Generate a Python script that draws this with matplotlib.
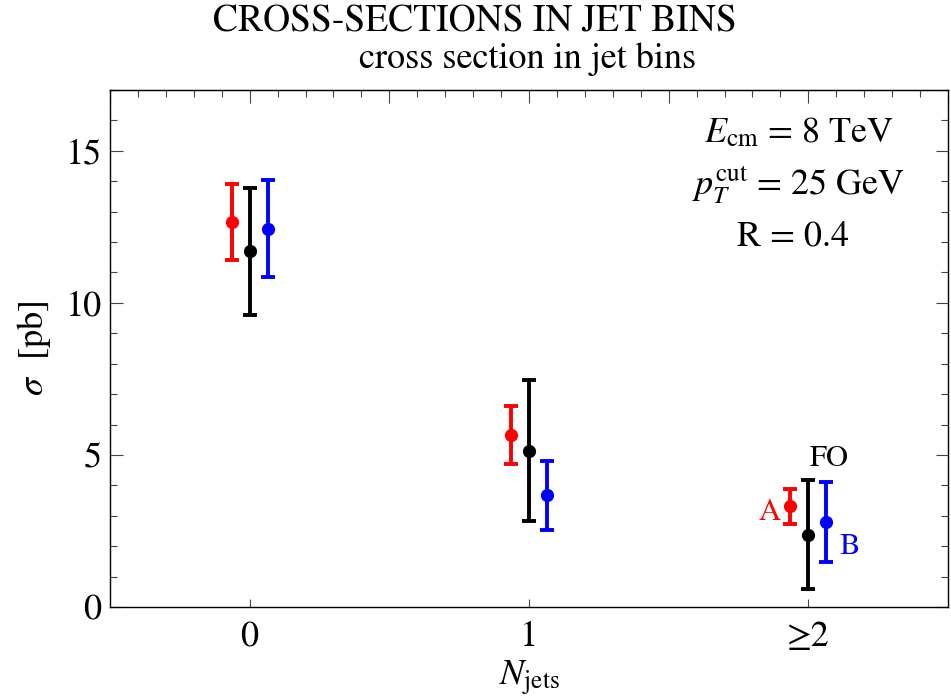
import numpy as np
import matplotlib
matplotlib.use("Agg")
from matplotlib import pyplot as plt
from matplotlib.ticker import MultipleLocator

plt.rcParams['font.family'] = ['STIXGeneral', 'Liberation Serif', 'DejaVu Serif']
plt.rcParams['mathtext.fontset'] = 'stix'

# data
bins = [0, 1, 2]
bin_labels = ["0", "1", "≥2"]

a_val = [12.65, 5.67, 3.33]
a_lo = [11.42, 4.71, 2.74]
a_hi = [13.90, 6.60, 3.89]

fo_val = [11.70, 5.14, 2.37]
fo_lo = [9.60, 2.84, 0.59]
fo_hi = [13.78, 7.45, 4.19]

b_val = [12.43, 3.69, 2.80]
b_lo = [10.85, 2.54, 1.48]
b_hi = [14.05, 4.81, 4.12]

fig = plt.figure(figsize=(9.51, 6.99), dpi=100)
ax = fig.add_axes([0.1157, 0.1316, 0.8811, 0.7396])

x = np.array(bins, dtype=float)
dx = 0.065
for off, val, lo, hi, col in [(-dx, a_val, a_lo, a_hi, 'red'),
                              (0.0, fo_val, fo_lo, fo_hi, 'black'),
                              (dx, b_val, b_lo, b_hi, 'blue')]:
    val = np.array(val); lo = np.array(lo); hi = np.array(hi)
    ax.errorbar(x + off, val, yerr=[val - lo, hi - val], fmt='o', color=col,
                ms=8.5, elinewidth=2.8, capsize=5, capthick=2.8)

ax.set_xlim(-0.5, 2.5)
ax.set_ylim(0, 17)

ax.set_xticks(bins)
ax.set_xticklabels(bin_labels, fontsize=26)
ax.yaxis.set_major_locator(MultipleLocator(5))
ax.yaxis.set_minor_locator(MultipleLocator(1))
ax.tick_params(axis='y', labelsize=26, direction='in', length=9, width=0.8,
               right=True, color='#444444', pad=6)
ax.tick_params(axis='y', which='minor', direction='in', length=5, width=0.8,
               right=True, color='#444444')
ax.tick_params(axis='x', direction='in', length=6, width=0.8, color='#444444', pad=10)

# top axis with its own ticks, like the original frame
top = ax.secondary_xaxis('top')
top.xaxis.set_major_locator(MultipleLocator(0.5))
top.xaxis.set_minor_locator(MultipleLocator(0.1))
top.tick_params(which='major', direction='in', length=9, width=0.8,
                labeltop=False, color='#444444')
top.tick_params(which='minor', direction='in', length=5, width=0.8, color='#444444')

for s in ax.spines.values():
    s.set_linewidth(1.0)

ax.set_xlabel(r'$N_{\mathrm{jets}}$', fontsize=26)
ax.xaxis.set_label_coords(0.5, -0.1)
ax.set_ylabel(r'$\sigma$  [pb]', fontsize=26, labelpad=9)

ax.text(1.86, 3.1, 'A', color='red', fontsize=22, ha='center', va='center')
ax.text(2.075, 4.85, 'FO', color='black', fontsize=22, ha='center', va='center')
ax.text(2.147, 1.98, 'B', color='blue', fontsize=22, ha='center', va='center')

ax.text(0.822, 0.917, r'$E_{\mathrm{cm}}$ = 8 TeV', transform=ax.transAxes,
        fontsize=26, ha='center', va='center')
ax.text(0.822, 0.816, r'$p_T^{\mathrm{cut}}$ = 25 GeV', transform=ax.transAxes,
        fontsize=26, ha='center', va='center')
ax.text(0.815, 0.716, 'R = 0.4', transform=ax.transAxes,
        fontsize=26, ha='center', va='center')

fig.text(0.499, 0.968, 'CROSS-SECTIONS IN JET BINS', fontsize=27,
         ha='center', va='center')
fig.text(0.555, 0.915, 'cross section in jet bins', fontsize=26,
         ha='center', va='center')

fig.savefig('out.png', dpi=100)
